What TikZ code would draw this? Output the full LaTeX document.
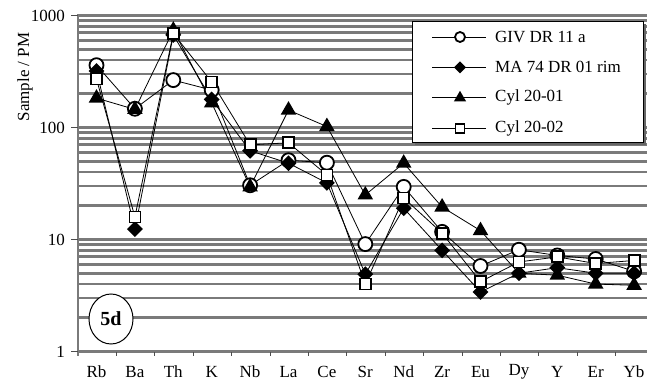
\documentclass[tikz,border=0pt]{standalone}
\usepackage{fontspec}
\setmainfont{Liberation Serif}
\usetikzlibrary{shapes.geometric}

\tikzset{
  grid line/.style={draw=black!52, line width=2.8pt},
  axis line/.style={draw=black!52, line width=2.4pt},
  tick line/.style={draw=black!70, line width=1pt},
  series/.style={draw=black, line width=0.8pt},
  circ/.style={circle, draw, line width=1.8pt, fill=white, minimum size=14pt, inner sep=0pt},
  diam/.style={diamond, fill=black, minimum size=16pt, inner sep=0pt},
  tri/.style={regular polygon, regular polygon sides=3, fill=black, minimum size=18pt, inner sep=0pt},
  sq/.style={rectangle, draw, line width=1.8pt, fill=white, minimum size=11pt, inner sep=0pt},
  lcirc/.style={circ, minimum size=10pt},
  ldiam/.style={diam, minimum size=12pt},
  ltri/.style={tri, minimum size=14pt},
  lsq/.style={sq, minimum size=9pt},
}

% one trace: name, values Rb ... Yb
\newcommand\trace[2]{%
  \foreach \v [count=\i from 0] in {#2}
    \coordinate (#1\i) at ({96.5+38.4*\i},{351.5-112*log10(\v)});
  \draw[series] (#10) \foreach \i in {1,...,14} {-- (#1\i)};}
\newcommand\markset[2]{%
  \foreach \i in {0,...,14}
    \node[#2] (m#1\i) at (#1\i) {};}

\begin{document}
\begin{tikzpicture}[x=1pt,y=-1pt,font=\fontsize{17}{20}\selectfont]
\useasboundingbox (0,0) rectangle (647,382);

% grid
\foreach \d in {1,10,100}
  \foreach \m in {1,...,9}
    \draw[grid line] (78,{351.5-112*log10(\d*\m)}) -- (647,{351.5-112*log10(\d*\m)});
\draw[grid line] (78,15.5) -- (647,15.5);

% axes
\draw[axis line] (78,14.3) -- (78,356);
\foreach \e/\t in {0/1,1/10,2/100,3/1000} {
  \draw[tick line] (71,{351.5-112*\e}) -- (78,{351.5-112*\e});
  \node[anchor=east, inner sep=0pt] (y\t) at (65,{351.5-112*\e}) {\t};
}
\foreach \k in {1,...,14}
  \draw[tick line] ({78+38.4*\k},352) -- ({78+38.4*\k},356);
\foreach \el [count=\i from 0] in {Rb,Ba,Th,K,Nb,La,Ce,Sr,Nd,Zr,Eu,Dy,Y,Er,Yb}
  \node (x\el) at ({96.5+38.4*\i},372) {\el};
\node[rotate=90] (ylabel) at (25,77) {Sample / PM};

% data
\trace{giv}{360,147,265,216,30.5,51,48.5,9.1,29.5,11.7,5.8,8.1,7.2,6.7,5.2}
\trace{ma}{320,12.4,670,178,62,48,32,4.9,19,8.0,3.4,5.0,5.6,5.0,5.0}
\trace{cyla}{183,145,740,166,29.5,143,102,25,48,19.5,12,5.0,4.8,4.0,3.9}
\trace{cylb}{271,15.9,690,255,70,73,37.7,4.0,23.5,11.4,4.2,6.3,7.0,6.1,6.5}
\markset{giv}{circ}
\markset{ma}{diam}
\markset{cyla}{tri}
\markset{cylb}{sq}

% legend
\fill[black!60] (415,24) rectangle (646,145);
\node[draw, fill=white, line width=0.8pt, anchor=north west, minimum width=231pt, minimum height=121pt] (legend) at (412,21) {};
\foreach \mk/\txt [count=\r from 0] in {lcirc/GIV DR 11 a,ldiam/MA 74 DR 01 rim,ltri/Cyl 20-01,lsq/Cyl 20-02} {
  \coordinate (ka\r) at (432,{37+30.4*\r});
  \coordinate (kb\r) at (486,{37+30.4*\r});
  \draw[series] (ka\r) -- (kb\r);
  \node[\mk] (key\r) at (460,{37+30.4*\r}) {};
  \node[anchor=west, inner sep=0pt] (lab\r) at (495,{37+30.4*\r}) {\txt};
}

% panel tag
\node[ellipse, draw, fill=white, line width=1pt, minimum width=44pt, minimum height=50pt, font=\bfseries\fontsize{20}{24}\selectfont] (tag) at (111,319) {5d};

\end{tikzpicture}
\end{document}
